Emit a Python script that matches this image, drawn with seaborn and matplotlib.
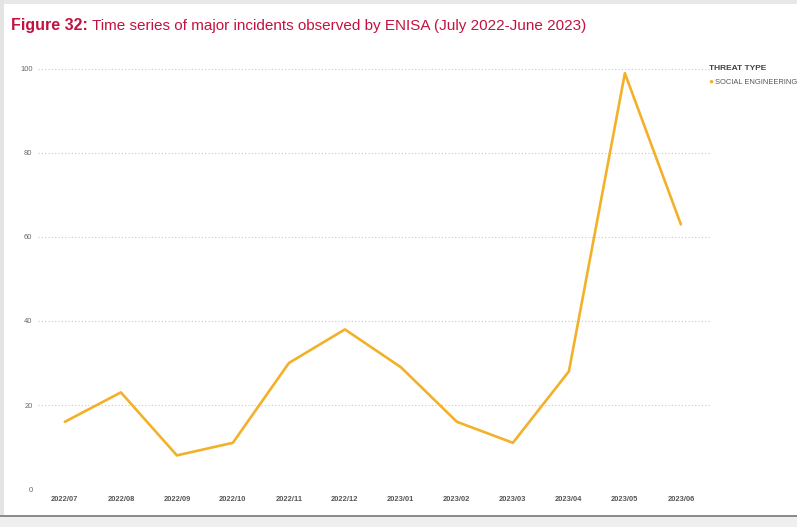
import matplotlib
import matplotlib.pyplot as plt
import pandas as pd
import seaborn as sns
from matplotlib.patches import Rectangle

matplotlib.use("Agg")

# values
months = ["2022/07", "2022/08", "2022/09", "2022/10", "2022/11", "2022/12",
          "2023/01", "2023/02", "2023/03", "2023/04", "2023/05", "2023/06"]
incidents = [16, 23, 8, 11, 30, 38, 29, 16, 11, 28, 99, 63]
threat_type = "SOCIAL ENGINEERING"
y_ticks = [0, 20, 40, 60, 80, 100]

df = pd.DataFrame({
    "month": months,
    "pos": range(len(months)),
    "incidents": incidents,
    "threat": threat_type,
})

sns.set_theme(style="white")
plt.rcParams["font.family"] = ["Liberation Sans", "DejaVu Sans"]

line_color = "#F2B129"
title_color = "#C4113F"
W, H = 797, 527

fig = plt.figure(figsize=(W / 100, H / 100), dpi=100)
fig.patch.set_facecolor("white")

# screenshot frame
fig.patches.append(Rectangle((0, 1 - 4 / H), 1, 4 / H, transform=fig.transFigure,
                             facecolor="#E8E8E8", edgecolor="none", zorder=0))
fig.patches.append(Rectangle((0, 0), 4 / W, 1, transform=fig.transFigure,
                             facecolor="#E4E4E4", edgecolor="none", zorder=0))
fig.patches.append(Rectangle((0, 0), 1, 12 / H, transform=fig.transFigure,
                             facecolor="#EFEFEF", edgecolor="none", zorder=0))
fig.patches.append(Rectangle((0, 10 / H), 1, 2.5 / H, transform=fig.transFigure,
                             facecolor="#8C8C8C", edgecolor="none", zorder=0))

left, right = 38, 710
top, bottom = 60, 489
ax = fig.add_axes([left / W, (H - bottom) / H, (right - left) / W, (bottom - top) / H])

sns.lineplot(data=df, x="pos", y="incidents", hue="threat", palette=[line_color],
             linewidth=1.9, ax=ax, legend=False)

ax.set_xlim(-0.48, len(months) - 1 + 0.52)
ax.set_ylim(0, 100 * (bottom - top) / (bottom - 69))
ax.set_xticks(range(len(months)))
ax.set_xticklabels(months, fontsize=5.4, color="#555555", fontweight="semibold")
ax.set_yticks(y_ticks)
ax.set_yticklabels([str(v) for v in y_ticks], fontsize=5.4, color="#666666")
ax.tick_params(axis="x", length=0, pad=5)
ax.tick_params(axis="y", length=0, pad=4)
ax.grid(axis="y", linestyle=(0, (1, 2)), color="#C8C8C8", linewidth=0.8)
ax.set_axisbelow(True)
for spine in ax.spines.values():
    spine.set_visible(False)
ax.set_xlabel("")
ax.set_ylabel("")

# title with bold prefix, sharing one baseline
fig.text(11 / W, 1 - 30 / H, "Figure 32:", fontsize=11.5, fontweight="bold",
         color=title_color, va="baseline", ha="left")
fig.text(92 / W, 1 - 30 / H, "Time series of major incidents observed by ENISA (July 2022-June 2023)",
         fontsize=11, color=title_color, va="baseline", ha="left")

# legend
fig.text(709 / W, 1 - 68 / H, "THREAT TYPE", fontsize=6, fontweight="bold",
         color="#444444", va="center", ha="left")
fig.text(708 / W, 1 - 82 / H, "\u25CF", fontsize=6, color=line_color, va="center", ha="left")
fig.text(715 / W, 1 - 82 / H, threat_type, fontsize=5.4, color="#555555", va="center", ha="left")

fig.savefig("out.png", dpi=100)
